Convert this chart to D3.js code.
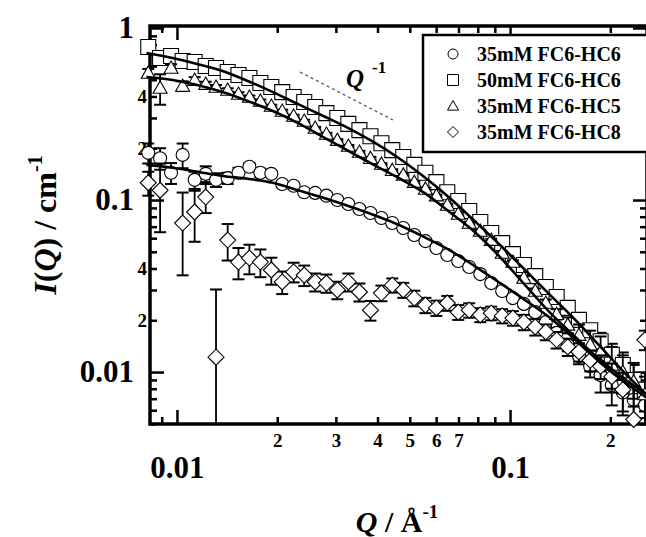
<!DOCTYPE html>
<html>
<head>
<meta charset="utf-8">
<script src="https://cdn.jsdelivr.net/npm/d3@7"></script>
<style>
body { margin: 0; background: #fff; }
svg { display: block; }
</style>
</head>
<body>
<svg></svg>
<script>
// Q grid (1/A) shared by all four samples
var Q = [0.0082, 0.0089, 0.0096, 0.0104, 0.0113, 0.0122, 0.0131, 0.0142, 0.0153, 0.0165,
         0.0178, 0.0192, 0.0207, 0.0224, 0.0241, 0.0260, 0.0281, 0.0303, 0.0327, 0.0353,
         0.0381, 0.0411, 0.0443, 0.0478, 0.0516, 0.0557, 0.0601, 0.0648, 0.0699, 0.0754,
         0.0814, 0.0878, 0.0947, 0.102, 0.110, 0.119, 0.128, 0.138, 0.149, 0.161,
         0.174, 0.187, 0.202, 0.218, 0.235, 0.254];

// I(Q) / cm-1
var iHC6_35 = [0.188, 0.175, 0.144, 0.183, 0.131, 0.142, 0.131, 0.134, 0.144, 0.156,
               0.144, 0.142, 0.124, 0.121, 0.111, 0.110, 0.106, 0.100, 0.0948, 0.0887,
               0.0840, 0.0786, 0.0735, 0.0688, 0.0626, 0.0577, 0.0526, 0.0479, 0.0442, 0.0408,
               0.0371, 0.0329, 0.0296, 0.0269, 0.0249, 0.0223, 0.0195, 0.0169, 0.0144, 0.0124,
               0.0108, 0.0096, 0.0084, 0.0076, 0.0069, 0.0064];
var eHC6_35 = [0.025, 0.025, 0.02, 0.03, 0.015, 0.015, 0.012, 0.01, 0.01, 0.008,
               0.008, 0.006, 0.005, 0.005, 0.004, 0.004, 0.004, 0.003, 0.003, 0.003,
               0.003, 0.002, 0.002, 0.002, 0.002, 0.002, 0.0015, 0.0015, 0.0015, 0.0012,
               0.0012, 0.001, 0.001, 0.001, 0.001, 0.001, 0.001, 0.0012, 0.0012, 0.0013,
               0.0015, 0.002, 0.002, 0.002, 0.002, 0.002];

var iHC6_50 = [0.775, 0.669, 0.688, 0.643, 0.634, 0.601, 0.585, 0.555, 0.533, 0.512,
               0.479, 0.454, 0.424, 0.397, 0.371, 0.347, 0.320, 0.300, 0.277, 0.255,
               0.235, 0.214, 0.195, 0.178, 0.160, 0.144, 0.127, 0.111, 0.0987, 0.0863,
               0.0745, 0.0643, 0.0562, 0.0485, 0.0419, 0.0361, 0.0312, 0.0273, 0.0236, 0.0201,
               0.0175, 0.0151, 0.0126, 0.0110, 0.0090, 0.0079];
var eHC6_50 = [0.03, 0.02, 0.015, 0.012, 0.01, 0.008, 0.008, 0.006, 0.006, 0.005,
               0.005, 0.004, 0.004, 0.003, 0.003, 0.003, 0.003, 0.002, 0.002, 0.002,
               0.002, 0.002, 0.002, 0.002, 0.0015, 0.0015, 0.0015, 0.0015, 0.0012, 0.0012,
               0.001, 0.001, 0.001, 0.001, 0.001, 0.001, 0.001, 0.001, 0.0012, 0.0013,
               0.0015, 0.0018, 0.002, 0.002, 0.002, 0.002];

var iHC5_35 = [0.548, 0.448, 0.585, 0.460, 0.498, 0.472, 0.454, 0.436, 0.413, 0.397,
               0.376, 0.352, 0.329, 0.308, 0.288, 0.262, 0.242, 0.223, 0.206, 0.190,
               0.175, 0.162, 0.149, 0.140, 0.127, 0.116, 0.106, 0.0935, 0.0829, 0.0735,
               0.0660, 0.0585, 0.0492, 0.0436, 0.0352, 0.0296, 0.0252, 0.0217, 0.0188, 0.0164,
               0.0144, 0.0131, 0.0110, 0.0100, 0.0088, 0.0074];
var eHC5_35 = [0.03, 0.09, 0.03, 0.03, 0.02, 0.015, 0.012, 0.01, 0.01, 0.008,
               0.008, 0.006, 0.006, 0.005, 0.005, 0.004, 0.004, 0.003, 0.003, 0.003,
               0.003, 0.002, 0.002, 0.002, 0.002, 0.002, 0.0015, 0.0015, 0.0015, 0.0012,
               0.0012, 0.001, 0.001, 0.001, 0.001, 0.001, 0.0012, 0.0015, 0.002, 0.0025,
               0.003, 0.003, 0.003, 0.0025, 0.0025, 0.002];

var iHC8_35 = [0.126, 0.114, null, 0.0735, 0.0852, 0.104, 0.0122, 0.0585, 0.0436, 0.0460,
               0.0436, 0.0392, 0.0334, 0.0382, 0.0366, 0.0334, 0.0329, 0.0300, 0.0334, 0.0292,
               0.0229, 0.0288, 0.0320, 0.0300, 0.0269, 0.0245, 0.0236, 0.0252, 0.0223, 0.0229,
               0.0215, 0.0220, 0.0212, 0.0206, 0.0195, 0.0183, 0.0171, 0.0154, 0.0140, 0.0131,
               0.0117, 0.0108, 0.0094, 0.0079, 0.0053, 0.0154];
var eHC8_35 = [0.02, 0.049, null, 0.037, 0.028, 0.02, 0.018, 0.014, 0.009, 0.009,
               0.008, 0.007, 0.005, 0.005, 0.005, 0.004, 0.004, 0.0035, 0.004, 0.0035,
               0.003, 0.003, 0.003, 0.003, 0.0028, 0.0025, 0.0024, 0.0025, 0.0022, 0.0022,
               0.002, 0.002, 0.002, 0.002, 0.002, 0.002, 0.0018, 0.0017, 0.0016, 0.0016,
               0.0016, 0.0017, 0.0018, 0.002, 0.003, 0.002];

// model fits (solid lines)
var fitQ      = [0.0081, 0.0097, 0.0115, 0.0137, 0.0163, 0.0194, 0.0231, 0.0275, 0.0327, 0.039,
                 0.0464, 0.0553, 0.0658, 0.0783, 0.0933, 0.111, 0.132, 0.157, 0.187, 0.223, 0.257];
var fitHC6_50 = [0.716, 0.669, 0.618, 0.562, 0.492, 0.424, 0.361, 0.308, 0.262, 0.217,
                 0.175, 0.136, 0.103, 0.0755, 0.0548, 0.0392, 0.0280, 0.0201, 0.0140, 0.0097, 0.0074];
var fitHC5_35 = [0.519, 0.498, 0.466, 0.424, 0.376, 0.329, 0.280, 0.232, 0.193, 0.160,
                 0.134, 0.110, 0.0852, 0.0652, 0.0466, 0.0320, 0.0221, 0.0160, 0.0117, 0.0090, 0.0074];
var fitHC6_35 = [0.160, 0.154, 0.146, 0.138, 0.133, 0.126, 0.114, 0.103, 0.0923, 0.0818,
                 0.0716, 0.0609, 0.0512, 0.0413, 0.0329, 0.0262, 0.0206, 0.0154, 0.0113, 0.0086, 0.0071];

// Q^-1 guide
var guideQ = [0.0234, 0.0445];
var guideI = [0.555, 0.292];

var legendNames = ["35mM FC6-HC6", "50mM FC6-HC6", "35mM FC6-HC5", "35mM FC6-HC8"];

var xMinor = [0.009, 0.02, 0.03, 0.04, 0.05, 0.06, 0.07, 0.08, 0.09, 0.2];
var xMinorLabels = {0.02: "2", 0.03: "3", 0.04: "4", 0.05: "5", 0.06: "6", 0.07: "7", 0.2: "2"};
var xMajor = [0.01, 0.1];
var yMinor = [0.005, 0.006, 0.007, 0.008, 0.009, 0.02, 0.03, 0.04, 0.05, 0.06, 0.07, 0.08, 0.09,
              0.2, 0.3, 0.4, 0.5, 0.6, 0.7, 0.8, 0.9];
var yMinorLabels = {0.02: "2", 0.04: "4", 0.2: "2", 0.4: "4"};
var yMajor = [0.01, 0.1, 1];

var W = 646, H = 537;
var plot = {left: 150, right: 647, top: 26, bottom: 424};
var serif = "'Liberation Serif', 'Times New Roman', serif";

var svg = d3.select("svg")
    .attr("width", W)
    .attr("height", H)
    .attr("font-family", serif)
    .attr("font-weight", "bold");

svg.append("rect").attr("width", W).attr("height", H).attr("fill", "#fff");

var x = d3.scaleLog().domain([0.0083, 0.2577]).range([plot.left, plot.right]);
var y = d3.scaleLog().domain([1.027, 0.00499]).range([plot.top, plot.bottom]);

// ticks pointing inward on all four sides
function addAxis(axis, tx, ty, values, size, fmt, pad, fs) {
  var g = svg.append("g")
      .attr("transform", "translate(" + tx + "," + ty + ")")
      .call(axis.tickValues(values).tickSize(size).tickSizeOuter(0).tickPadding(pad).tickFormat(fmt));
  g.attr("font-family", serif).attr("font-size", fs).attr("font-weight", "bold");
  g.select(".domain").remove();
  g.selectAll("line").attr("stroke", "#000").attr("stroke-width", 2.5);
  g.selectAll("text").attr("fill", "#000");
  return g;
}
var none = function() { return ""; };

addAxis(d3.axisBottom(x), 0, plot.bottom, xMinor, -7, function(d) { return xMinorLabels[d] || ""; }, 10, 19);
addAxis(d3.axisBottom(x), 0, plot.bottom, xMajor, -14, function(d) { return d === 0.01 ? "0.01" : "0.1"; }, 32, 31);
addAxis(d3.axisTop(x), 0, plot.top, xMinor, -7, none, 0, 10);
addAxis(d3.axisTop(x), 0, plot.top, xMajor, -14, none, 0, 10);
addAxis(d3.axisLeft(y), plot.left, 0, yMinor, -7, function(d) { return yMinorLabels[d] || ""; }, 3, 19);
addAxis(d3.axisLeft(y), plot.left, 0, yMajor, -14, function(d) { return d === 1 ? "1" : (d === 0.1 ? "0.1" : "0.01"); }, 16, 31);
addAxis(d3.axisRight(y), plot.right, 0, yMinor, -7, none, 0, 10);
addAxis(d3.axisRight(y), plot.right, 0, yMajor, -14, none, 0, 10);

svg.append("rect")
    .attr("x", plot.left).attr("y", plot.top)
    .attr("width", plot.right - plot.left).attr("height", plot.bottom - plot.top)
    .attr("fill", "none").attr("stroke", "#000").attr("stroke-width", 3.5);

// marker shapes
var shapes = {
  circle:   function(s) { var r = s / 2; return "M" + r + ",0A" + r + "," + r + " 0 1,1 " + (-r) + ",0A" + r + "," + r + " 0 1,1 " + r + ",0Z"; },
  square:   function(s) { var h = s / 2; return "M" + (-h) + "," + (-h) + "H" + h + "V" + h + "H" + (-h) + "Z"; },
  triangle: function(s) { var h = s / 2; return "M0," + (-h) + "L" + h + "," + (h * 0.75) + "L" + (-h) + "," + (h * 0.75) + "Z"; },
  diamond:  function(s) { var h = s / 2; return "M0," + (-h) + "L" + h + ",0L0," + h + "L" + (-h) + ",0Z"; }
};

var series = [
  {name: legendNames[0], I: iHC6_35, E: eHC6_35, shape: "circle",   size: 13},
  {name: legendNames[1], I: iHC6_50, E: eHC6_50, shape: "square",   size: 15},
  {name: legendNames[2], I: iHC5_35, E: eHC5_35, shape: "triangle", size: 14},
  {name: legendNames[3], I: iHC8_35, E: eHC8_35, shape: "diamond",  size: 16}
];

series.forEach(function(s) {
  var pts = Q.map(function(q, k) { return {q: q, i: s.I[k], e: s.E[k]}; })
      .filter(function(d) { return d.i != null; });
  var g = svg.append("g");

  // error bars
  var eb = g.selectAll(".eb").data(pts).enter().append("g").attr("class", "eb");
  eb.append("line")
      .attr("x1", function(d) { return x(d.q); })
      .attr("x2", function(d) { return x(d.q); })
      .attr("y1", function(d) { return y(d.i + d.e); })
      .attr("y2", function(d) { return d.i - d.e > 0.00499 ? y(d.i - d.e) : plot.bottom; })
      .attr("stroke", "#000").attr("stroke-width", 1.8);
  eb.append("line")
      .attr("x1", function(d) { return x(d.q) - 6; })
      .attr("x2", function(d) { return x(d.q) + 6; })
      .attr("y1", function(d) { return y(d.i + d.e); })
      .attr("y2", function(d) { return y(d.i + d.e); })
      .attr("stroke", "#000").attr("stroke-width", 2);
  eb.filter(function(d) { return d.i - d.e > 0.00499; }).append("line")
      .attr("x1", function(d) { return x(d.q) - 6; })
      .attr("x2", function(d) { return x(d.q) + 6; })
      .attr("y1", function(d) { return y(d.i - d.e); })
      .attr("y2", function(d) { return y(d.i - d.e); })
      .attr("stroke", "#000").attr("stroke-width", 2);

  g.selectAll(".pt").data(pts).enter().append("path")
      .attr("class", "pt")
      .attr("transform", function(d) { return "translate(" + x(d.q) + "," + y(d.i) + ")"; })
      .attr("d", shapes[s.shape](s.size))
      .attr("fill", "#fff").attr("stroke", "#000").attr("stroke-width", 1.1);
});

// fits on top of the markers
var line = d3.line()
    .x(function(d) { return x(d.q); })
    .y(function(d) { return y(d.i); })
    .curve(d3.curveMonotoneX);

[fitHC6_50, fitHC5_35, fitHC6_35].forEach(function(f) {
  svg.append("path")
      .datum(fitQ.map(function(q, k) { return {q: q, i: f[k]}; }))
      .attr("d", line)
      .attr("fill", "none").attr("stroke", "#000").attr("stroke-width", 2.6);
});

// Q^-1 guide
svg.append("path")
    .datum(guideQ.map(function(q, k) { return {q: q, i: guideI[k]}; }))
    .attr("d", d3.line().x(function(d) { return x(d.q); }).y(function(d) { return y(d.i); }))
    .attr("stroke", "#555").attr("stroke-width", 1.3).attr("stroke-dasharray", "3,3");
var gq = svg.append("text").attr("x", 346).attr("y", 87).attr("font-size", 25);
gq.append("tspan").attr("font-style", "italic").text("Q");
gq.append("tspan").attr("font-size", 17).attr("dx", 8).attr("dy", -14).text("-1");

// legend
var leg = svg.append("g");
leg.append("rect")
    .attr("x", 423).attr("y", 35).attr("width", 240).attr("height", 117)
    .attr("fill", "#fff").attr("stroke", "#000").attr("stroke-width", 2.5);
series.forEach(function(s, k) {
  var ly = 54 + k * 26;
  leg.append("path")
      .attr("transform", "translate(453," + ly + ")")
      .attr("d", shapes[s.shape](s.shape === "circle" ? 10 : 11))
      .attr("fill", "#fff").attr("stroke", "#000").attr("stroke-width", 1);
  leg.append("text").attr("x", 477).attr("y", ly + 7).attr("font-size", 20).text(s.name);
});

// axis titles
var yt = svg.append("text")
    .attr("transform", "translate(56,225) rotate(-90)")
    .attr("text-anchor", "middle").attr("font-size", 32);
yt.append("tspan").attr("font-style", "italic").text("I");
yt.append("tspan").text("(");
yt.append("tspan").attr("font-style", "italic").text("Q");
yt.append("tspan").text(") / cm");
yt.append("tspan").attr("font-size", 20).attr("dy", -14).text("-1");

var xt = svg.append("text")
    .attr("x", 397).attr("y", 532)
    .attr("text-anchor", "middle").attr("font-size", 30);
xt.append("tspan").attr("font-style", "italic").text("Q");
xt.append("tspan").text(" / \u00C5");
xt.append("tspan").attr("font-size", 19).attr("dy", -14).text("-1");
</script>
</body>
</html>
